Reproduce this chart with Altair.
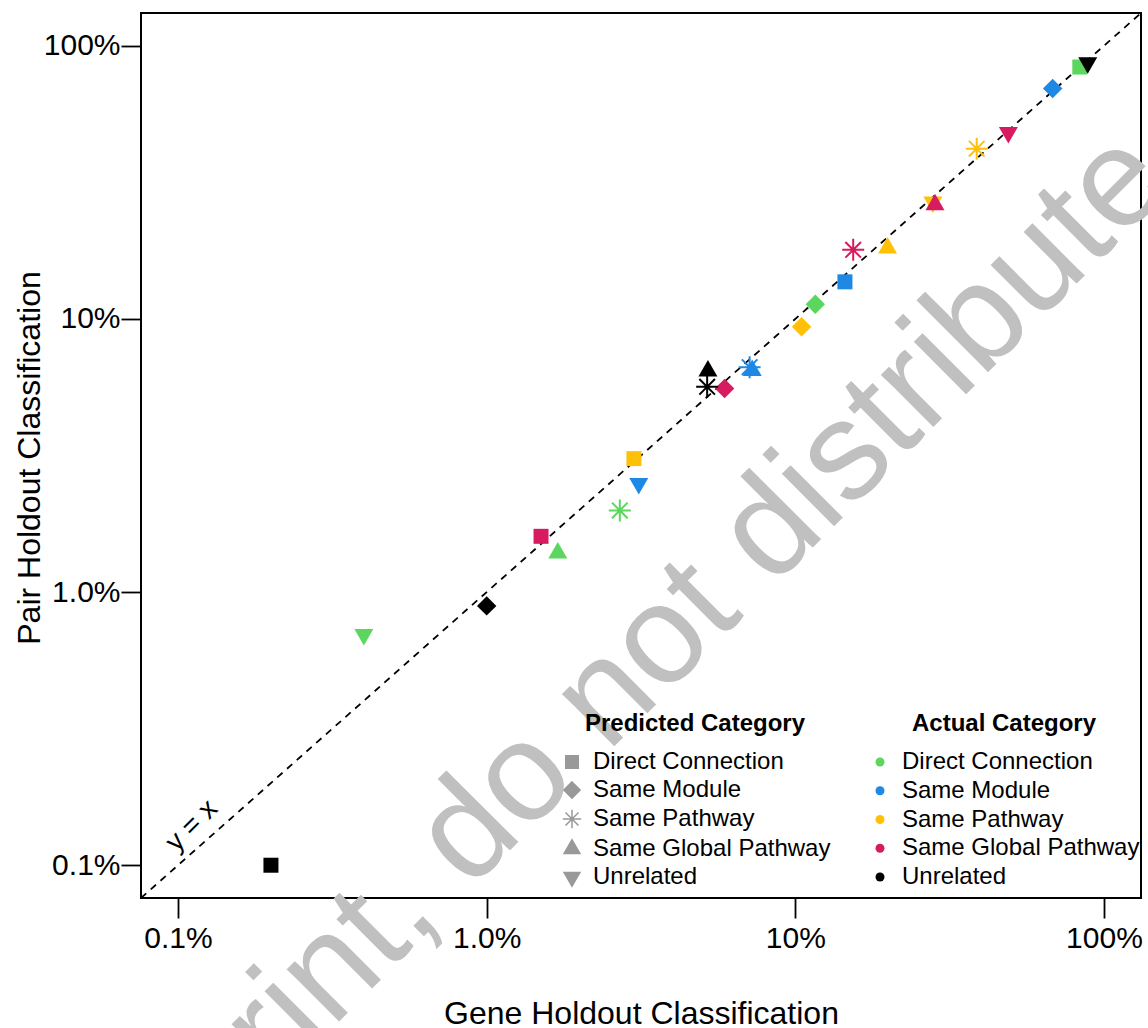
import altair as alt
import pandas as pd

# ---------------- data ----------------
predicted_categories = ["Direct Connection", "Same Module", "Same Pathway",
                        "Same Global Pathway", "Unrelated"]
actual_categories = ["Direct Connection", "Same Module", "Same Pathway",
                     "Same Global Pathway", "Unrelated"]
actual_colors = ["#5CD65E", "#1E88E5", "#FFC107", "#D81B60", "#000000"]

# values ordered by predicted category (fractions: 1.0 = 100%)
gene_direct = [0.835, 0.1161, 0.0270, 0.0170, 0.0040]
pair_direct = [0.836, 0.1132, 0.0199, 0.0139, 0.0070]
gene_module = [0.1448, 0.682, 0.0711, 0.0725, 0.0311]
pair_module = [0.1367, 0.698, 0.0666, 0.0648, 0.0250]
gene_pathway = [0.0300, 0.1048, 0.387, 0.199, 0.279]
pair_pathway = [0.0308, 0.0936, 0.420, 0.182, 0.268]
gene_global = [0.0150, 0.0590, 0.154, 0.2835, 0.490]
pair_global = [0.0160, 0.0556, 0.179, 0.262, 0.481]
gene_unrelated = [0.0020, 0.0100, 0.0518, 0.0521, 0.886]
pair_unrelated = [0.0010, 0.0089, 0.0564, 0.0645, 0.867]

tick_values = [0.001, 0.01, 0.1, 1.0]
tick_labels = ["0.1%", "1.0%", "10%", "100%"]
axis_min = 10 ** -3.12
axis_max = 10 ** 0.12

watermark_text = ["preprint, do not distribute"]
identity_label = ["y = x"]

# ---------------- tables ----------------
gene_lists = [gene_direct, gene_module, gene_pathway, gene_global, gene_unrelated]
pair_lists = [pair_direct, pair_module, pair_pathway, pair_global, pair_unrelated]
rows = []
for actual, gx, py in zip(actual_categories, gene_lists, pair_lists):
    for pred, x, y in zip(predicted_categories, gx, py):
        rows.append({"actual": actual, "predicted": pred, "gene": x, "pair": y})
df = pd.DataFrame(rows)
line_df = pd.DataFrame({"gene": [axis_min, axis_max], "pair": [axis_min, axis_max]})
wm_df = pd.DataFrame({"t": watermark_text})
lab_df = pd.DataFrame({"t": identity_label})

shape_paths = [
    "M-0.75,-0.75L0.75,-0.75L0.75,0.75L-0.75,0.75Z",
    "M0,-0.97L0.97,0L0,0.97L-0.97,0Z",
    "M-1.1,0L1.1,0M0,-1.1L0,1.1M-0.78,-0.78L0.78,0.78M-0.78,0.78L0.78,-0.78",
    "M0,-1.1L0.95,0.55L-0.95,0.55Z",
    "M0,1.1L0.95,-0.55L-0.95,-0.55Z",
]

label_expr = " : ".join(
    f"datum.value < {v * 1.5} ? '{l}'" for v, l in zip(tick_values[:-1], tick_labels[:-1])
) + f" : '{tick_labels[-1]}'"

FONT = "Liberation Sans"

xscale = alt.Scale(type="log", domain=[axis_min, axis_max], nice=False, zero=False)
yscale = alt.Scale(type="log", domain=[axis_min, axis_max], nice=False, zero=False)

x_axis = alt.Axis(values=tick_values, labelExpr=label_expr, grid=False, domain=False,
                  tickSize=20, tickWidth=1.8, tickColor="black",
                  labelFont=FONT, labelFontSize=30, labelColor="black", labelPadding=5,
                  labelFlush=False, labelOverlap=False,
                  title="Gene Holdout Classification", titleFont=FONT, titleFontSize=32,
                  titleFontWeight="normal", titleColor="black",
                  titleX=500, titleY=125, titleBaseline="alphabetic", titleAlign="center")
y_axis = alt.Axis(values=tick_values, labelExpr=label_expr, grid=False, domain=False,
                  tickSize=20, tickWidth=1.8, tickColor="black",
                  labelFont=FONT, labelFontSize=30, labelColor="black", labelPadding=1,
                  labelFlush=False, labelOverlap=False, labelAlign="right",
                  labelBaseline="middle",
                  title="Pair Holdout Classification", titleFont=FONT, titleFontSize=32,
                  titleFontWeight="normal", titleColor="black", titleAngle=270,
                  titleX=-102, titleY=444.5, titleBaseline="alphabetic", titleAlign="center")

watermark = alt.Chart(wm_df).mark_text(
    font=FONT, fontSize=140, color="#C0C0C0", angle=315, align="center", baseline="middle"
).encode(x=alt.value(456), y=alt.value(691), text="t:N")

diag = alt.Chart(line_df).mark_line(color="black", strokeWidth=1.8, strokeDash=[7, 6]).encode(
    x=alt.X("gene:Q", scale=xscale, axis=x_axis),
    y=alt.Y("pair:Q", scale=yscale, axis=y_axis),
)

ylabel = alt.Chart(lab_df).mark_text(
    font=FONT, fontSize=28, color="black", angle=315, align="center", baseline="middle"
).encode(x=alt.value(51), y=alt.value(813), text="t:N")

legend_common = dict(orient="none", legendY=699, padding=0, labelFont=FONT,
                     labelFontSize=24, labelColor="black", labelLimit=0,
                     titleFont=FONT, titleFontSize=24, titleFontWeight="bold",
                     titleColor="black", titleAnchor="middle", titlePadding=14, titleLimit=0)

points = alt.Chart(df).mark_point(filled=True, opacity=1, size=400).encode(
    x=alt.X("gene:Q", scale=xscale, axis=x_axis),
    y=alt.Y("pair:Q", scale=yscale, axis=y_axis),
    shape=alt.Shape("predicted:N", scale=alt.Scale(domain=predicted_categories, range=shape_paths),
                    legend=alt.Legend(title="Predicted Category", legendX=419,
                                      symbolSize=278, symbolFillColor="#999999",
                                      symbolStrokeColor="#999999", symbolStrokeWidth=1.5,
                                      labelOffset=9, rowPadding=4.0, **legend_common)),
    fill=alt.Fill("actual:N", sort=actual_categories, scale=alt.Scale(range=actual_colors),
                  legend=alt.Legend(title="Actual Category", legendX=727,
                                    symbolType="circle", symbolSize=81, symbolStrokeWidth=0,
                                    labelOffset=10, rowPadding=4.75, **legend_common)),
    stroke=alt.Stroke("actual:N", sort=actual_categories, scale=alt.Scale(range=actual_colors),
                      legend=None),
    strokeWidth=alt.condition(alt.datum.predicted == "Same Pathway", alt.value(2), alt.value(0)),
)

chart = alt.layer(watermark, diag, ylabel, points).properties(
    width=1000, height=885,
    padding={"left": 141, "top": 13, "right": 7, "bottom": 130},
    autosize="none",
).configure(font=FONT, background="white").configure_view(stroke="black", strokeWidth=2)

chart.save("out.html", embed_options={"renderer": "svg", "actions": False})
